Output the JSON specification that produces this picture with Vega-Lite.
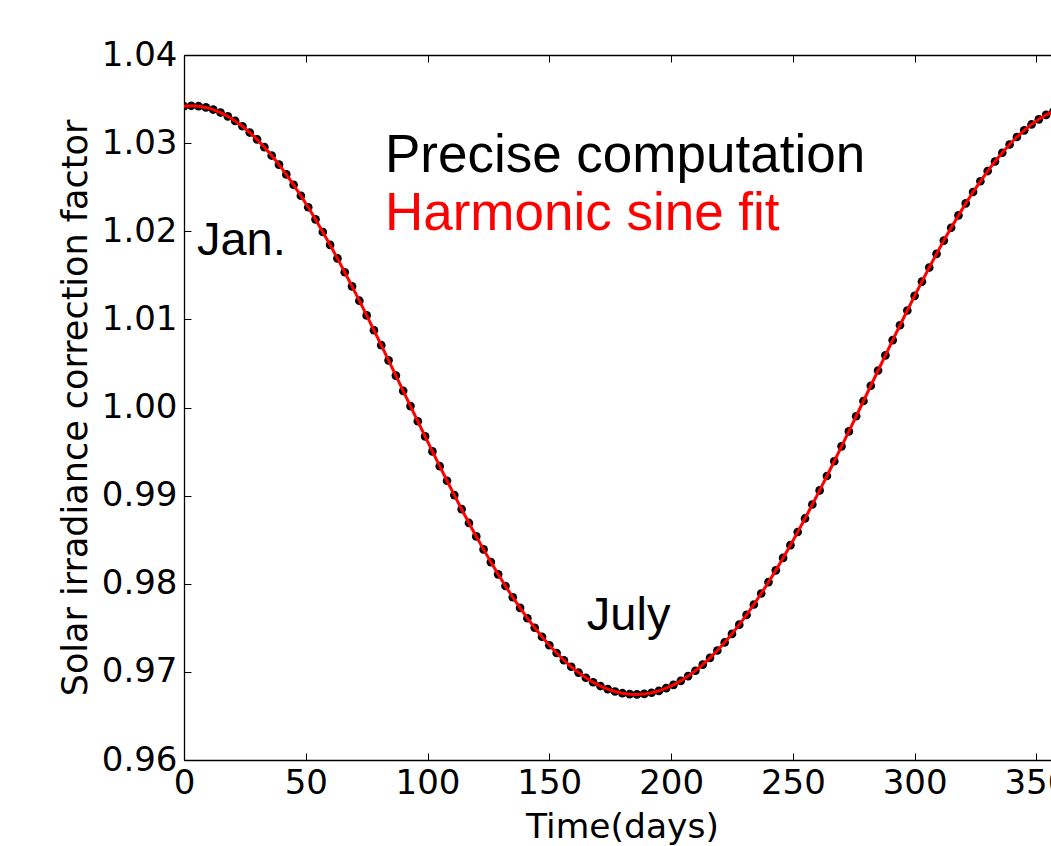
{
  "$schema": "https://vega.github.io/schema/vega-lite/v6.json",
  "width": 867,
  "height": 705,
  "autosize": {"type": "none"},
  "padding": {"left": 184, "top": 55, "right": 0, "bottom": 86},
  "background": "white",
  "config": {"view": {"stroke": null}, "font": "DejaVu Sans"},
  "resolve": {"axis": {"x": "independent"}},
  "datasets": {
    "curve": [
      {"day": 0, "value": 1.03419}, {"day": 3, "value": 1.03424}, {"day": 6, "value": 1.03419}, {"day": 9, "value": 1.03405},
      {"day": 12, "value": 1.03381}, {"day": 15, "value": 1.03347}, {"day": 18, "value": 1.03304}, {"day": 21, "value": 1.03252},
      {"day": 24, "value": 1.03191}, {"day": 27, "value": 1.0312}, {"day": 30, "value": 1.03042}, {"day": 33, "value": 1.02954},
      {"day": 36, "value": 1.02859}, {"day": 39, "value": 1.02756}, {"day": 42, "value": 1.02645}, {"day": 45, "value": 1.02527},
      {"day": 48, "value": 1.02403}, {"day": 51, "value": 1.02272}, {"day": 54, "value": 1.02135}, {"day": 57, "value": 1.01992},
      {"day": 60, "value": 1.01845}, {"day": 63, "value": 1.01692}, {"day": 66, "value": 1.01535}, {"day": 69, "value": 1.01375},
      {"day": 72, "value": 1.01212}, {"day": 75, "value": 1.01045}, {"day": 78, "value": 1.00877}, {"day": 81, "value": 1.00707},
      {"day": 84, "value": 1.00535}, {"day": 87, "value": 1.00362}, {"day": 90, "value": 1.00189}, {"day": 93, "value": 1.00016},
      {"day": 96, "value": 0.99844}, {"day": 99, "value": 0.99672}, {"day": 102, "value": 0.99502}, {"day": 105, "value": 0.99334},
      {"day": 108, "value": 0.99169}, {"day": 111, "value": 0.99006}, {"day": 114, "value": 0.98846}, {"day": 117, "value": 0.9869},
      {"day": 120, "value": 0.98537}, {"day": 123, "value": 0.9839}, {"day": 126, "value": 0.98246}, {"day": 129, "value": 0.98107},
      {"day": 132, "value": 0.97974}, {"day": 135, "value": 0.97847}, {"day": 138, "value": 0.97726}, {"day": 141, "value": 0.97609},
      {"day": 144, "value": 0.97501}, {"day": 147, "value": 0.97398}, {"day": 150, "value": 0.97302}, {"day": 153, "value": 0.97214},
      {"day": 156, "value": 0.97132}, {"day": 159, "value": 0.97058}, {"day": 162, "value": 0.96992}, {"day": 165, "value": 0.96933},
      {"day": 168, "value": 0.96882}, {"day": 171, "value": 0.96839}, {"day": 174, "value": 0.96804}, {"day": 177, "value": 0.96777},
      {"day": 180, "value": 0.96758}, {"day": 183, "value": 0.96747}, {"day": 186, "value": 0.96744}, {"day": 189, "value": 0.9675},
      {"day": 192, "value": 0.96763}, {"day": 195, "value": 0.96785}, {"day": 198, "value": 0.96815}, {"day": 201, "value": 0.96853},
      {"day": 204, "value": 0.96898}, {"day": 207, "value": 0.96952}, {"day": 210, "value": 0.97013}, {"day": 213, "value": 0.97082},
      {"day": 216, "value": 0.97159}, {"day": 219, "value": 0.97243}, {"day": 222, "value": 0.97334}, {"day": 225, "value": 0.97431},
      {"day": 228, "value": 0.97536}, {"day": 231, "value": 0.97647}, {"day": 234, "value": 0.97765}, {"day": 237, "value": 0.97889},
      {"day": 240, "value": 0.98019}, {"day": 243, "value": 0.98152}, {"day": 246, "value": 0.98293}, {"day": 249, "value": 0.98438},
      {"day": 252, "value": 0.98587}, {"day": 255, "value": 0.98741}, {"day": 258, "value": 0.98899}, {"day": 261, "value": 0.99059},
      {"day": 264, "value": 0.99223}, {"day": 267, "value": 0.9939}, {"day": 270, "value": 0.99559}, {"day": 273, "value": 0.99729},
      {"day": 276, "value": 0.99901}, {"day": 279, "value": 1.00074}, {"day": 282, "value": 1.00247}, {"day": 285, "value": 1.0042},
      {"day": 288, "value": 1.00592}, {"day": 291, "value": 1.00764}, {"day": 294, "value": 1.00933}, {"day": 297, "value": 1.01101},
      {"day": 300, "value": 1.01267}, {"day": 303, "value": 1.01429}, {"day": 306, "value": 1.01588}, {"day": 309, "value": 1.01743},
      {"day": 312, "value": 1.01894}, {"day": 315, "value": 1.0204}, {"day": 318, "value": 1.0218}, {"day": 321, "value": 1.02316},
      {"day": 324, "value": 1.02445}, {"day": 327, "value": 1.02567}, {"day": 330, "value": 1.02683}, {"day": 333, "value": 1.02791},
      {"day": 336, "value": 1.02891}, {"day": 339, "value": 1.02984}, {"day": 342, "value": 1.03069}, {"day": 345, "value": 1.03145},
      {"day": 348, "value": 1.03212}, {"day": 351, "value": 1.0327}, {"day": 354, "value": 1.0332}, {"day": 357, "value": 1.03359},
      {"day": 360, "value": 1.0339}, {"day": 363, "value": 1.03411}
    ],
    "legendText": [
      {"day": 82.5, "value": 1.02676, "label": "Precise computation", "series": "precise"},
      {"day": 82.5, "value": 1.02014, "label": "Harmonic sine fit", "series": "fit"}
    ],
    "months": [
      {"day": 5.3, "value": 1.0173, "label": "Jan."},
      {"day": 165.4, "value": 0.97475, "label": "July"}
    ]
  },
  "encoding": {
    "y": {
      "field": "value", "type": "quantitative",
      "scale": {"domain": [0.96, 1.04], "nice": false, "zero": false},
      "axis": {
        "orient": "left", "values": [0.96, 0.97, 0.98, 0.99, 1.0, 1.01, 1.02, 1.03, 1.04], "format": ".2f",
        "grid": false, "domainColor": "#000000", "domainWidth": 1.3, "tickColor": "#000000", "tickWidth": 1,
        "tickSize": -7, "labelPadding": 14, "labelFont": "DejaVu Sans", "labelFontSize": 34, "labelColor": "#000000",
        "labelFlush": false, "labelOverlap": false, "labelBaseline": "middle",
        "title": "Solar irradiance correction factor", "titleFont": "DejaVu Sans", "titleFontSize": 35, "titleFontWeight": "normal", "titleColor": "#000000",
        "titleAngle": -90, "titleX": -98, "titleY": 352.5, "titleBaseline": "alphabetic", "titleAlign": "center", "titleAnchor": null
      }
    }
  },
  "layer": [
    {
      "data": {"name": "curve"},
      "mark": {"type": "point", "filled": true, "color": "#000000", "opacity": 1, "size": 75, "clip": true},
      "encoding": {
        "x": {
          "field": "day", "type": "quantitative",
          "scale": {"domain": [0, 356], "nice": false, "zero": false},
          "axis": {
            "orient": "bottom", "values": [0, 50, 100, 150, 200, 250, 300, 350], "format": "d",
            "grid": false, "domainColor": "#000000", "domainWidth": 1.3, "tickColor": "#000000", "tickWidth": 1,
            "tickSize": -7, "labelPadding": 13, "labelFont": "DejaVu Sans", "labelFontSize": 34, "labelColor": "#000000",
            "labelFlush": false, "labelOverlap": false,
            "title": "Time(days)", "titleFont": "DejaVu Sans", "titleFontSize": 34.5, "titleFontWeight": "normal", "titleColor": "#000000",
            "titleX": 438, "titleY": 77, "titleBaseline": "alphabetic", "titleAlign": "center", "titleAnchor": null
          }
        }
      }
    },
    {
      "data": {"name": "curve"},
      "mark": {"type": "line", "color": "#ff0000", "strokeWidth": 3, "clip": true},
      "encoding": {
        "x": {
          "field": "day", "type": "quantitative",
          "scale": {"domain": [0, 356], "nice": false, "zero": false},
          "axis": {
            "orient": "top", "values": [0, 50, 100, 150, 200, 250, 300, 350], "labels": false, "title": null,
            "grid": false, "domainColor": "#000000", "domainWidth": 1.3, "tickColor": "#000000", "tickWidth": 1, "tickSize": -7
          }
        }
      }
    },
    {
      "data": {"name": "legendText"},
      "mark": {"type": "text", "font": "Liberation Sans", "fontSize": 53, "align": "left", "baseline": "alphabetic"},
      "encoding": {
        "x": {"field": "day", "type": "quantitative", "scale": {"domain": [0, 356], "nice": false, "zero": false}, "axis": null},
        "text": {"field": "label", "type": "nominal"},
        "color": {"field": "series", "type": "nominal", "scale": {"domain": ["precise", "fit"], "range": ["#000000", "#ff0000"]}, "legend": null}
      }
    },
    {
      "data": {"name": "months"},
      "mark": {"type": "text", "font": "Liberation Sans", "fontSize": 47, "align": "left", "baseline": "alphabetic", "color": "#000000"},
      "encoding": {
        "x": {"field": "day", "type": "quantitative", "scale": {"domain": [0, 356], "nice": false, "zero": false}, "axis": null},
        "text": {"field": "label", "type": "nominal"}
      }
    }
  ]
}
